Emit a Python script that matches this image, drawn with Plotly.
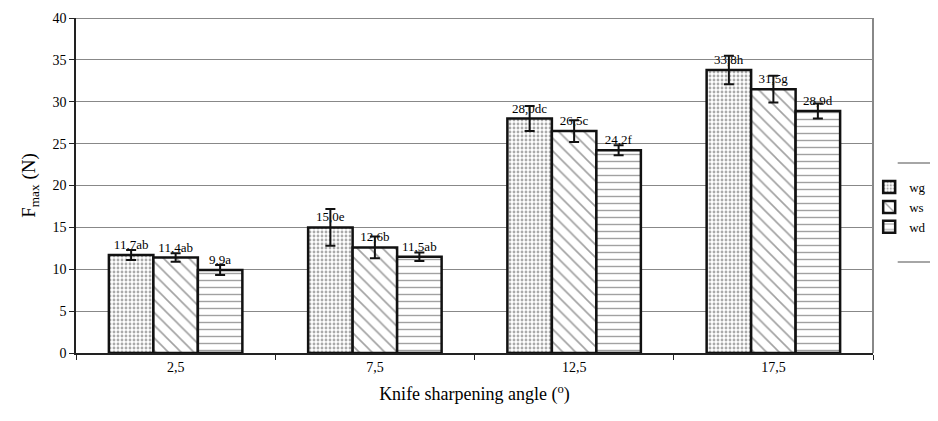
import plotly.graph_objects as go

categories = ["2,5", "7,5", "12,5", "17,5"]
series_names = ["wg", "ws", "wd"]
wg_values = [11.7, 15.0, 28.0, 33.8]
ws_values = [11.4, 12.6, 26.5, 31.5]
wd_values = [9.9, 11.5, 24.2, 28.9]
wg_err = [0.6, 2.2, 1.5, 1.7]
ws_err = [0.5, 1.3, 1.3, 1.6]
wd_err = [0.6, 0.5, 0.6, 0.9]
wg_labels = ["11,7ab", "15,0e", "28,0dc", "33,8h"]
ws_labels = ["11,4ab", "12,6b", "26,5c", "31,5g"]
wd_labels = ["9,9a", "11,5ab", "24,2f", "28,9d"]

FONT = "Liberation Serif, Times New Roman, serif"

patterns = [
    dict(shape=".", fgcolor="#555555", bgcolor="white", size=4, solidity=0.4),
    dict(shape="\\", fgcolor="#444444", bgcolor="white", size=9, solidity=0.18),
    dict(shape="-", fgcolor="#444444", bgcolor="white", size=7, solidity=0.2),
]

fig = go.Figure()
for name, vals, errs, labels, pat in zip(
    series_names,
    [wg_values, ws_values, wd_values],
    [wg_err, ws_err, wd_err],
    [wg_labels, ws_labels, wd_labels],
    patterns,
):
    fig.add_trace(go.Bar(
        name=name,
        x=categories,
        y=vals,
        text=labels,
        textposition="outside",
        constraintext="none",
        textfont=dict(family=FONT, size=13, color="black"),
        cliponaxis=False,
        marker=dict(color="white", pattern=pat,
                    line=dict(color="#111111", width=2.5)),
        error_y=dict(type="data", array=errs, visible=True,
                     color="#111111", thickness=2, width=5),
    ))

# the page body adds an 8px margin, so the figure is sized to compensate
fig.update_layout(
    width=930, height=413,
    margin=dict(l=68, r=65, t=10, b=68, autoexpand=False),
    barmode="group",
    bargap=0.33,
    bargroupgap=0,
    plot_bgcolor="white",
    paper_bgcolor="white",
    font=dict(family=FONT, size=14, color="black"),
    legend=dict(
        xref="container", yref="container",
        x=0.926, y=0.518, xanchor="left", yanchor="middle",
        font=dict(family=FONT, size=13),
        itemwidth=30, tracegroupgap=2,
        bgcolor="rgba(0,0,0,0)",
    ),
    shapes=[
        dict(type="line", xref="paper", yref="y", x0=0, x1=1, y0=40, y1=40,
             line=dict(color="#888888", width=2), layer="below"),
        dict(type="line", xref="paper", yref="paper", x0=1, x1=1, y0=0, y1=1,
             line=dict(color="#888888", width=2), layer="below"),
        dict(type="line", xref="paper", yref="paper", x0=1.031, x1=1.1, y0=0.567, y1=0.567,
             line=dict(color="#888888", width=1.5)),
        dict(type="line", xref="paper", yref="paper", x0=1.031, x1=1.1, y0=0.272, y1=0.272,
             line=dict(color="#888888", width=1.5)),
    ],
)

fig.update_yaxes(
    range=[0, 40], dtick=5,
    showgrid=True, gridcolor="#888888", gridwidth=1,
    showline=True, linecolor="#222222", linewidth=1.5,
    ticks="outside", ticklen=5, tickcolor="#222222",
    tickfont=dict(family=FONT, size=14),
    title=dict(text="F<sub>max</sub> (N)", font=dict(family=FONT, size=19), standoff=12),
    zeroline=False,
)
fig.update_xaxes(
    showline=True, linecolor="#222222", linewidth=2,
    ticks="outside", ticklen=5, tickcolor="#222222", tickson="boundaries",
    tickfont=dict(family=FONT, size=14),
    title=dict(text="Knife sharpening angle (<sup>o</sup>)", font=dict(family=FONT, size=18), standoff=14),
)

fig.write_html("out.html")
